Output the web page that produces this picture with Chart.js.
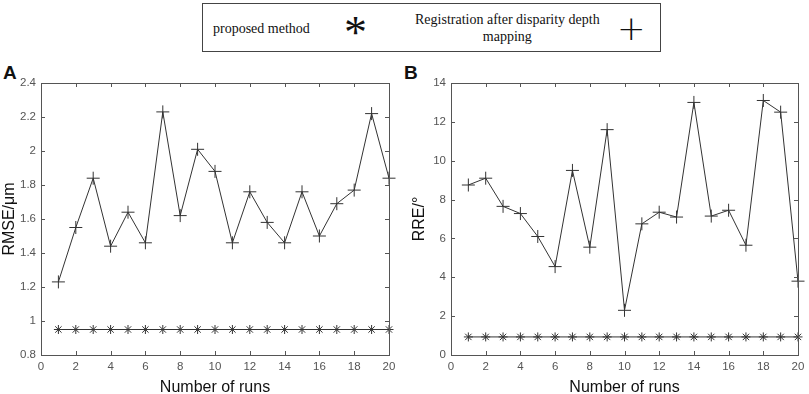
<!DOCTYPE html>
<html>
<head>
<meta charset="utf-8">
<script src="https://cdn.jsdelivr.net/npm/chart.js@4"></script>
<style>
  body { margin: 0; background: #fff; width: 809px; height: 394px; position: relative; overflow: hidden; font-family: "Liberation Sans", Arial, sans-serif; }
  .panel { position: absolute; top: 60px; }
  .letter { position: absolute; font: bold 19px "Liberation Sans", Arial, sans-serif; color: #111; }
  #legendBox { position: absolute; left: 202px; top: 3px; width: 457px; height: 47px; border: 1.5px solid #444; font-family: "Liberation Serif", "Times New Roman", serif; color: #111; }
  #legendBox span { position: absolute; white-space: nowrap; }
</style>
</head>
<body>
<div id="legendBox">
  <span style="left:10px; top:17px; font-size:14px;">proposed method</span>
  <span style="left:141px; top:6px; font-size:46px; line-height:46px;">*</span>
  <span style="left:212px; top:7px; font-size:14px; text-align:center; line-height:17px;">Registration after disparity depth<br>mapping</span>
  <span style="left:414px; top:4px; font-size:34px; font-family:'DejaVu Sans'; font-weight:200;">+</span>
</div>
<div class="letter" style="left:3px; top:62px;">A</div>
<div class="letter" style="left:404px; top:62px;">B</div>
<div class="panel" style="left:0px;"><canvas id="chartA" width="400" height="334"></canvas></div>
<div class="panel" style="left:410px;"><canvas id="chartB" width="399" height="334"></canvas></div>
<script>
// Données
const runs = [1,2,3,4,5,6,7,8,9,10,11,12,13,14,15,16,17,18,19,20];
const xTicks = [0,2,4,6,8,10,12,14,16,18,20];

// (A) RMSE
const rmseProposed = [0.95,0.95,0.95,0.95,0.95,0.95,0.95,0.95,0.95,0.95,0.95,0.95,0.95,0.95,0.95,0.95,0.95,0.95,0.95,0.95];
const rmseDisparity = [1.23,1.55,1.84,1.44,1.64,1.46,2.23,1.62,2.01,1.88,1.46,1.76,1.58,1.46,1.76,1.50,1.69,1.77,2.22,1.84];
const yTicksA = [0.8,1,1.2,1.4,1.6,1.8,2,2.2,2.4];

// (B) RRE
const rreProposed = [0.93,0.93,0.93,0.93,0.93,0.93,0.93,0.93,0.93,0.93,0.93,0.93,0.93,0.93,0.93,0.93,0.93,0.93,0.93,0.93];
const rreDisparity = [8.75,9.1,7.65,7.28,6.1,4.55,9.5,5.55,11.6,2.3,6.75,7.35,7.1,13.0,7.15,7.45,5.65,13.1,12.5,3.8];
const yTicksB = [0,2,4,6,8,10,12,14];

const axisColor = '#555';
const lineColor = '#333';

// cadre + graduations vers l'intérieur (style MATLAB)
const boxTicks = {
    id: 'boxTicks',
    afterDraw(chart) {
        const ctx = chart.ctx;
        const a = chart.chartArea;
        const len = 4;
        ctx.save();
        ctx.strokeStyle = axisColor;
        ctx.lineWidth = 1;
        ctx.strokeRect(a.left + 0.5, a.top + 0.5, a.right - a.left, a.bottom - a.top);
        ctx.beginPath();
        chart.scales.x.ticks.forEach(t => {
            const px = Math.round(chart.scales.x.getPixelForValue(t.value)) + 0.5;
            ctx.moveTo(px, a.bottom); ctx.lineTo(px, a.bottom - len);
            ctx.moveTo(px, a.top); ctx.lineTo(px, a.top + len);
        });
        chart.scales.y.ticks.forEach(t => {
            const py = Math.round(chart.scales.y.getPixelForValue(t.value)) + 0.5;
            ctx.moveTo(a.left, py); ctx.lineTo(a.left + len, py);
            ctx.moveTo(a.right, py); ctx.lineTo(a.right - len, py);
        });
        ctx.stroke();
        ctx.restore();
    }
};

function makeChart(id, proposed, disparity, yTicks, yTitle) {
    const ctx = document.getElementById(id).getContext('2d');
    return new Chart(ctx, {
        type: 'line',
        data: {
            labels: runs,
            datasets: [{
                label: 'proposed method',
                data: runs.map((r, i) => ({ x: r, y: proposed[i] })),
                borderColor: lineColor,
                backgroundColor: lineColor,
                borderWidth: 1,
                pointStyle: 'star',
                pointRadius: 4.5,
                pointBorderWidth: 1,
                tension: 0,
                clip: false
            }, {
                label: 'Registration after disparity depth mapping',
                data: runs.map((r, i) => ({ x: r, y: disparity[i] })),
                borderColor: lineColor,
                backgroundColor: lineColor,
                borderWidth: 1,
                pointStyle: 'cross',
                pointRadius: 6.5,
                pointBorderWidth: 1,
                tension: 0,
                clip: false
            }]
        },
        options: {
            responsive: false,
            animation: false,
            layout: { padding: { left: 0, right: 11, top: 23, bottom: 0 } },
            plugins: { legend: { display: false }, tooltip: { enabled: false } },
            scales: {
                x: {
                    type: 'linear',
                    min: xTicks[0],
                    max: xTicks[xTicks.length - 1],
                    afterBuildTicks: s => { s.ticks = xTicks.map(v => ({ value: v })); },
                    afterFit: s => { s.height = 39; },
                    grid: { display: false },
                    border: { display: false },
                    ticks: { color: '#555', font: { family: 'Liberation Sans', size: 11.5 }, padding: -3, maxRotation: 0 },
                    title: { display: true, text: 'Number of runs', color: '#111', font: { family: 'Liberation Sans', size: 16 }, padding: { top: 0, bottom: -3 } }
                },
                y: {
                    min: yTicks[0],
                    max: yTicks[yTicks.length - 1],
                    afterBuildTicks: s => { s.ticks = yTicks.map(v => ({ value: v })); },
                    afterFit: s => { s.width = 41; },
                    grid: { display: false },
                    border: { display: false },
                    ticks: { color: '#555', font: { family: 'Liberation Sans', size: 11.5 }, padding: -3, callback: v => String(v) },
                    title: { display: true, text: yTitle, color: '#111', font: { family: 'Liberation Sans', size: 16 }, padding: 0 }
                }
            }
        },
        plugins: [boxTicks]
    });
}

makeChart('chartA', rmseProposed, rmseDisparity, yTicksA, 'RMSE/\u03bcm');
makeChart('chartB', rreProposed, rreDisparity, yTicksB, 'RRE/\u00b0');
</script>
</body>
</html>
